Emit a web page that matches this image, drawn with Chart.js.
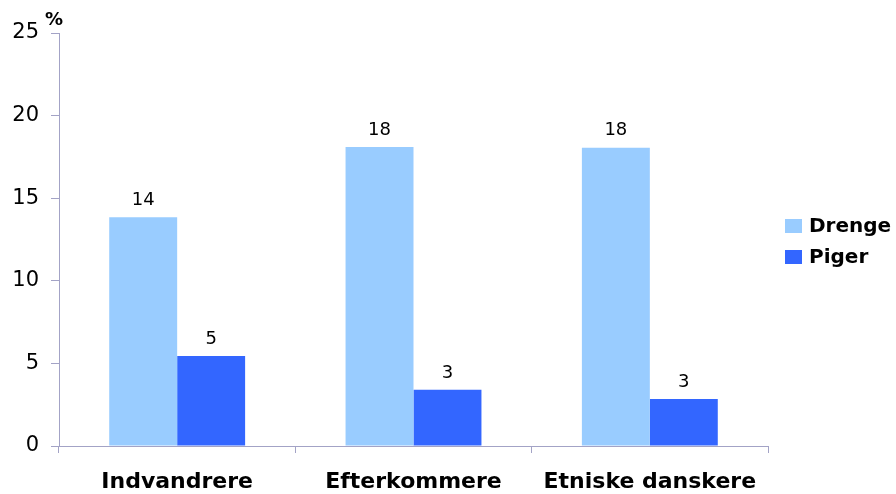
<!DOCTYPE html>
<html>
<head>
<meta charset="utf-8">
<script src="https://cdn.jsdelivr.net/npm/chart.js@4"></script>
<style>
html,body{margin:0;padding:0;background:#fff;}
#wrap{width:896px;height:494px;position:relative;}
</style>
</head>
<body>
<div id="wrap"><canvas id="c" width="896" height="494"></canvas></div>
<script>
const categories = ['Indvandrere', 'Efterkommere', 'Etniske danskere'];
const drenge = [13.85, 18.1, 18.05];
const piger = [5.45, 3.4, 2.85];
const seriesNames = ['Drenge', 'Piger'];
const yTicks = [0, 5, 10, 15, 20, 25];
const unitLabel = '%';

const FONT = '"DejaVu Sans", sans-serif';
const axisColor = '#a3a3c6';

const valueLabels = {
  id: 'valueLabels',
  afterDatasetsDraw(chart) {
    const ctx = chart.ctx;
    ctx.save();
    ctx.font = '18px ' + FONT;
    ctx.fillStyle = '#000';
    ctx.textAlign = 'center';
    ctx.textBaseline = 'bottom';
    chart.data.datasets.forEach((ds, i) => {
      const meta = chart.getDatasetMeta(i);
      meta.data.forEach((bar, j) => {
        ctx.fillText(String(Math.round(ds.data[j])), bar.x, bar.y - 8);
      });
    });
    ctx.restore();
  }
};

const extras = {
  id: 'extras',
  afterDraw(chart) {
    const ctx = chart.ctx;
    ctx.save();
    ctx.font = 'bold 18px ' + FONT;
    ctx.fillStyle = '#000';
    ctx.textAlign = 'left';
    ctx.textBaseline = 'middle';
    ctx.fillText(unitLabel, 45, 20);
    const x0 = 785, ys = [226, 257];
    chart.data.datasets.forEach((ds, i) => {
      ctx.fillStyle = ds.backgroundColor;
      ctx.fillRect(x0, ys[i] - 7, 17, 14);
      ctx.fillStyle = '#000';
      ctx.font = 'bold 20px ' + FONT;
      ctx.textBaseline = 'middle';
      ctx.fillText(ds.label, 809, ys[i] + 1);
    });
    ctx.restore();
  }
};

new Chart(document.getElementById('c'), {
  type: 'bar',
  data: {
    labels: categories,
    datasets: [
      { label: seriesNames[0], data: drenge, backgroundColor: '#99ccff' },
      { label: seriesNames[1], data: piger, backgroundColor: '#3366ff' }
    ]
  },
  options: {
    responsive: false,
    animation: false,
    devicePixelRatio: 1,
    layout: { padding: { top: 33, right: 128, left: 0, bottom: 0 } },
    plugins: { legend: { display: false }, tooltip: { enabled: false } },
    datasets: { bar: { categoryPercentage: 0.575, barPercentage: 1.0 } },
    scales: {
      x: {
        grid: { display: true, drawOnChartArea: false, offset: true, tickLength: 7, color: axisColor, lineWidth: 1 },
        border: { color: axisColor, width: 1 },
        ticks: { font: { family: FONT, size: 22, weight: 'bold' }, color: '#000', padding: 16, maxRotation: 0 },
        afterFit(s) { s.height = 48; }
      },
      y: {
        min: 0, max: 25,
        afterBuildTicks(s) { s.ticks = yTicks.map(v => ({ value: v })); },
        grid: { display: true, drawOnChartArea: false, tickLength: 8, color: axisColor, lineWidth: 1 },
        border: { color: axisColor, width: 1 },
        ticks: { font: { family: FONT, size: 21 }, color: '#000', padding: 12 },
        afterFit(s) { s.width = 59; }
      }
    }
  },
  plugins: [valueLabels, extras]
});
</script>
</body>
</html>
